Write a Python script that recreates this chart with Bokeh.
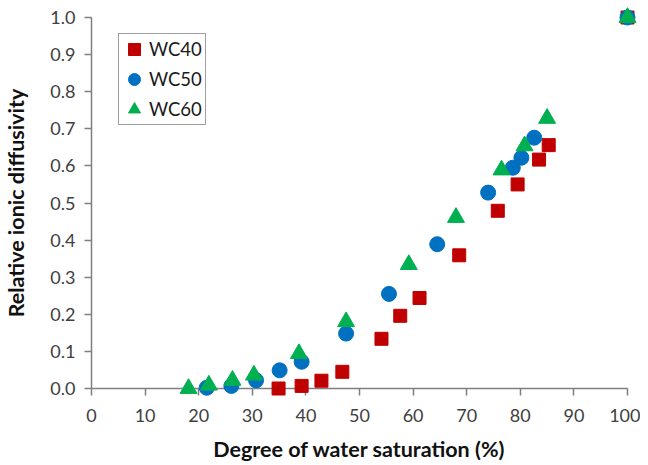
from bokeh.plotting import figure
from bokeh.models import Range1d, Legend, LegendItem, FixedTicker
from bokeh.embed import file_html
from bokeh.resources import INLINE

# ---- data ----
wc40_x = [34.9, 39.2, 42.9, 46.8, 54.1, 57.6, 61.2, 68.6, 75.8, 79.5, 83.5, 85.3, 100.0]
wc40_y = [0.000, 0.007, 0.021, 0.045, 0.134, 0.196, 0.244, 0.359, 0.479, 0.550, 0.617, 0.656, 1.000]

wc50_x = [21.5, 26.1, 30.7, 35.1, 39.2, 47.5, 55.5, 64.5, 74.0, 78.6, 80.2, 82.6, 100.0]
wc50_y = [0.002, 0.007, 0.022, 0.049, 0.072, 0.148, 0.255, 0.389, 0.528, 0.595, 0.622, 0.676, 1.000]

wc60_x = [18.1, 21.9, 26.3, 30.3, 38.7, 47.5, 59.2, 68.0, 76.5, 80.8, 85.0, 100.0]
wc60_y = [0.000, 0.009, 0.022, 0.036, 0.094, 0.180, 0.334, 0.461, 0.589, 0.654, 0.728, 1.000]

series_names = ["WC40", "WC50", "WC60"]

x_ticks = [0, 10, 20, 30, 40, 50, 60, 70, 80, 90, 100]
y_ticks = [0.0, 0.1, 0.2, 0.3, 0.4, 0.5, 0.6, 0.7, 0.8, 0.9, 1.0]
y_tick_labels = ["0.0", "0.1", "0.2", "0.3", "0.4", "0.5", "0.6", "0.7", "0.8", "0.9", "1.0"]

x_title = "Degree of water saturation (%)"
y_title = "Relative ionic diffusivity"

FONT = "Lato"
AXIS_COLOR = "#7f7f7f"
LABEL_COLOR = "#404040"

p = figure(width=640, height=465, output_backend="svg", toolbar_location=None,
           x_range=Range1d(0, 100), y_range=Range1d(0, 1),
           min_border_left=90, min_border_right=13, min_border_top=17,
           min_border_bottom=77)

p.xgrid.visible = False
p.ygrid.visible = False
p.outline_line_color = None
p.background_fill_color = "white"
p.border_fill_color = "white"

r40 = p.scatter(wc40_x, wc40_y, marker="square", size=13,
                fill_color="#C00000", line_color="#C00000", level="overlay")
r50 = p.scatter(wc50_x, wc50_y, marker="circle", size=15,
                fill_color="#0070C0", line_color="#0070C0", level="overlay")
r60 = p.scatter(wc60_x, wc60_y, marker="triangle", size=17,
                fill_color="#00B050", line_color="#00B050", level="overlay")

for ax in (p.xaxis[0], p.yaxis[0]):
    ax.axis_line_color = AXIS_COLOR
    ax.axis_line_width = 1.5
    ax.major_tick_line_color = AXIS_COLOR
    ax.major_tick_line_width = 1.5
    ax.major_tick_in = 0
    ax.major_tick_out = 7
    ax.minor_tick_line_color = None
    ax.major_label_text_font = FONT
    ax.major_label_text_font_size = "18px"
    ax.major_label_text_color = LABEL_COLOR
    ax.axis_label_text_font = FONT
    ax.axis_label_text_font_style = "bold"
    ax.axis_label_text_font_size = "21.5px"
    ax.axis_label_text_color = "#111111"

p.xaxis.ticker = FixedTicker(ticks=x_ticks)
p.yaxis.ticker = FixedTicker(ticks=y_ticks)
p.yaxis.major_label_overrides = {t: l for t, l in zip(y_ticks, y_tick_labels)}
p.xaxis.axis_label = x_title
p.yaxis.axis_label = y_title
p.xaxis.major_label_standoff = 13
p.xaxis.axis_label_standoff = 11
p.yaxis.major_label_standoff = 9
p.yaxis.axis_label_standoff = 18

legend = Legend(items=[LegendItem(label=series_names[0], renderers=[r40]),
                       LegendItem(label=series_names[1], renderers=[r50]),
                       LegendItem(label=series_names[2], renderers=[r60])],
                location=(27, 263))
legend.padding = 0
legend.spacing = 0
legend.glyph_width = 30
legend.glyph_height = 30
legend.label_height = 30
legend.label_width = 56
legend.label_standoff = 0
legend.margin = 0
legend.label_text_font = FONT
legend.label_text_font_size = "18.5px"
legend.label_text_color = "#1a1a1a"
legend.border_line_color = "#404040"
legend.border_line_width = 1.5
legend.background_fill_color = "white"
legend.background_fill_alpha = 1.0
p.add_layout(legend)

open("out.html", "w").write(file_html(p, INLINE))
